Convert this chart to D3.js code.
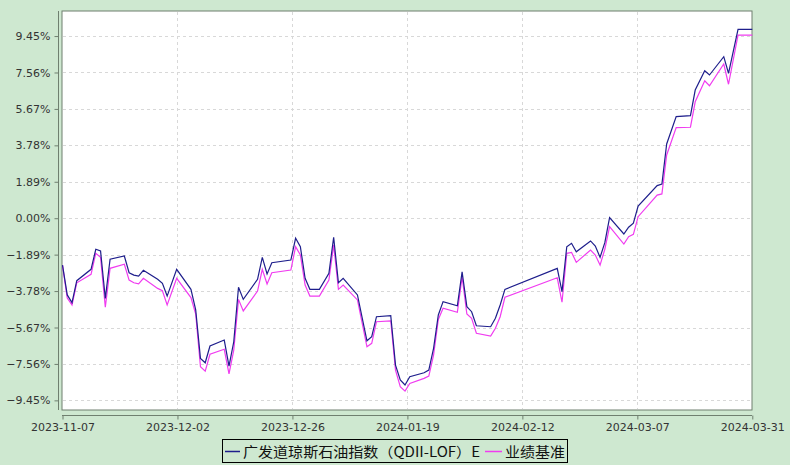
<!DOCTYPE html>
<html><head><meta charset="utf-8">
<script src="https://cdn.jsdelivr.net/npm/d3@7"></script>
<style>html,body{margin:0;padding:0;background:#cee8d0;} svg{display:block;}</style>
</head><body><svg id="chart" width="790" height="465"></svg>
<script>
const dates = ["2023-11-07","2023-11-08","2023-11-09","2023-11-10","2023-11-13","2023-11-14","2023-11-15","2023-11-16","2023-11-17",
"2023-11-20","2023-11-21","2023-11-22","2023-11-23","2023-11-24","2023-11-27","2023-11-28","2023-11-29","2023-12-01",
"2023-12-04","2023-12-05","2023-12-06","2023-12-07","2023-12-08","2023-12-11","2023-12-12","2023-12-13","2023-12-14","2023-12-15",
"2023-12-18","2023-12-19","2023-12-20","2023-12-21","2023-12-25","2023-12-26","2023-12-27","2023-12-28","2023-12-29","2023-12-31",
"2024-01-02","2024-01-03","2024-01-04","2024-01-05","2024-01-08","2024-01-10","2024-01-11","2024-01-12","2024-01-15","2024-01-16",
"2024-01-17","2024-01-18","2024-01-19","2024-01-22","2024-01-23","2024-01-24","2024-01-25","2024-01-26","2024-01-29","2024-01-30",
"2024-01-31","2024-02-01","2024-02-02","2024-02-05","2024-02-06","2024-02-07","2024-02-08","2024-02-19","2024-02-20","2024-02-21",
"2024-02-22","2024-02-23","2024-02-26","2024-02-27","2024-02-28","2024-02-29","2024-03-01","2024-03-04","2024-03-05","2024-03-06",
"2024-03-07","2024-03-11","2024-03-12","2024-03-13","2024-03-15","2024-03-18","2024-03-19","2024-03-21","2024-03-22","2024-03-25",
"2024-03-26","2024-03-28","2024-03-31"];
const fundValues = [-2.43,-3.98,-4.38,-3.24,-2.65,-1.61,-1.70,-4.16,-2.13,
-1.96,-2.83,-2.95,-3.00,-2.70,-3.17,-3.38,-4.04,-2.65,
-3.69,-4.76,-7.27,-7.50,-6.63,-6.32,-7.67,-6.41,-3.58,-4.21,
-3.17,-2.03,-2.89,-2.31,-2.17,-1.04,-1.48,-3.12,-3.69,-3.69,
-2.86,-0.99,-3.35,-3.12,-3.98,-6.36,-6.15,-5.11,-5.06,-7.62,
-8.39,-8.65,-8.22,-8.02,-7.88,-6.75,-5.02,-4.33,-4.54,-2.78,
-4.59,-4.85,-5.58,-5.63,-5.19,-4.50,-3.69,-2.60,-3.81,-1.48,
-1.30,-1.74,-1.18,-1.44,-2.03,-1.27,0.03,-0.82,-0.47,-0.26,
0.63,1.69,1.77,3.85,5.27,5.32,6.65,7.65,7.43,8.38,
7.52,9.80,9.80];
const benchValues = [-2.43,-4.14,-4.50,-3.35,-2.91,-1.82,-2.03,-4.62,-2.60,
-2.39,-3.21,-3.35,-3.41,-3.12,-3.64,-3.76,-4.50,-3.12,
-4.12,-4.97,-7.70,-7.93,-7.06,-6.80,-8.08,-6.84,-4.21,-4.81,
-3.78,-2.65,-3.41,-2.83,-2.69,-1.48,-1.91,-3.47,-4.04,-4.04,
-3.21,-1.39,-3.69,-3.47,-4.24,-6.67,-6.49,-5.37,-5.33,-7.88,
-8.74,-8.97,-8.57,-8.31,-8.19,-7.10,-5.25,-4.67,-4.88,-3.04,
-4.97,-5.19,-5.97,-6.11,-5.71,-5.11,-4.10,-3.09,-4.36,-1.82,
-1.77,-2.29,-1.65,-1.91,-2.43,-1.61,-0.44,-1.34,-0.96,-0.84,
0.08,1.20,1.26,3.28,4.70,4.72,6.04,7.13,6.87,8.00,
6.95,9.50,9.50];
const yTickValues = [9.45,7.56,5.67,3.78,1.89,0.00,-1.89,-3.78,-5.67,-7.56,-9.45];
const xTickLabels = ["2023-11-07","2023-12-02","2023-12-26","2024-01-19","2024-02-12","2024-03-07","2024-03-31"];
const seriesNames = ["广发道琼斯石油指数（QDII-LOF）E","业绩基准"];
const seriesColors = ["#1e1e8c","#f03cf0"];

const svg = d3.select("#chart");
const parse = d3.utcParse("%Y-%m-%d");
const pts = dates.map((d,i)=>({d:parse(d), f:fundValues[i], b:benchValues[i]}));

const L=62, R=752, T=11, B=410;
const t0 = parse(xTickLabels[0]), t1 = parse(xTickLabels[xTickLabels.length-1]);
const x = d3.scaleUtc().domain([t0,t1]).range([L+0.5,R+0.3]);
const y = d3.scaleLinear().domain([-9.95,10.75]).range([B,T]);

// plot background
svg.append("rect").attr("x",L).attr("y",T).attr("width",R-L).attr("height",B-T)
  .attr("fill","#ffffff").attr("stroke","#6f7f6f").attr("stroke-width",1);

// grid
const xTicks = xTickLabels.map((_,i)=>new Date(+t0 + i*(t1-t0)/(xTickLabels.length-1)));
svg.append("g").selectAll("line").data(yTickValues).join("line")
  .attr("x1",L+1).attr("x2",R-1)
  .attr("y1",d=>Math.round(y(d))+0.5).attr("y2",d=>Math.round(y(d))+0.5)
  .attr("stroke","#d8d8d8").attr("stroke-dasharray","3,3");
svg.append("g").selectAll("line").data(xTicks.slice(1,-1)).join("line")
  .attr("x1",d=>Math.round(x(d))+0.5).attr("x2",d=>Math.round(x(d))+0.5)
  .attr("y1",T+1).attr("y2",B-1)
  .attr("stroke","#d8d8d8").attr("stroke-dasharray","3,3");

// axes
const yAxis = d3.axisLeft(y).tickValues(yTickValues).tickSize(4).tickSizeOuter(0)
  .tickFormat(d=>d3.format(".2f")(d)+"%");
const gy = svg.append("g").attr("transform","translate(58.5,0)").call(yAxis);
gy.select(".domain").attr("d",`M0,${T}V${B}`).attr("stroke","#6f7f6f");
gy.selectAll(".tick line").attr("stroke","#6f7f6f");
gy.selectAll(".tick text").attr("x",-8).attr("fill","#333")
  .style("font-family","DejaVu Sans").style("font-size","11px");

const xAxis = d3.axisBottom(x).tickValues(xTicks).tickSize(4).tickSizeOuter(0)
  .tickFormat((d,i)=>xTickLabels[i]);
const gx = svg.append("g").attr("transform","translate(0,415.5)").call(xAxis);
gx.select(".domain").attr("d",`M${L},0H${R}`).attr("stroke","#6f7f6f");
gx.selectAll(".tick line").attr("stroke","#6f7f6f");
gx.selectAll(".tick text").attr("y",8).attr("fill","#333")
  .style("font-family","DejaVu Sans").style("font-size","11px");

// lines
const lineB = d3.line().x(p=>x(p.d)).y(p=>y(p.b));
const lineF = d3.line().x(p=>x(p.d)).y(p=>y(p.f));
svg.append("path").datum(pts).attr("d",lineB).attr("fill","none")
  .attr("stroke",seriesColors[1]).attr("stroke-width",1.2);
svg.append("path").datum(pts).attr("d",lineF).attr("fill","none")
  .attr("stroke",seriesColors[0]).attr("stroke-width",1.2);

// legend
const lg = svg.append("g");
lg.append("rect").attr("x",222.5).attr("y",439.5).attr("width",345).attr("height",23)
  .attr("fill","none").attr("stroke","#000").attr("stroke-width",1);
const legendItems = [
  {x1:225, x2:240, tx:243, tw:237, name:seriesNames[0], c:seriesColors[0]},
  {x1:485, x2:502, tx:505, tw:60, name:seriesNames[1], c:seriesColors[1]}
];
legendItems.forEach(it=>{
  lg.append("line").attr("x1",it.x1).attr("x2",it.x2).attr("y1",451.5).attr("y2",451.5)
    .attr("stroke",it.c).attr("stroke-width",1.5);
  lg.append("text").attr("x",it.tx).attr("y",456.5).text(it.name)
    .attr("textLength",it.tw).attr("lengthAdjust","spacingAndGlyphs")
    .style("font-family","'Noto Sans CJK SC', sans-serif").style("font-size","14px").attr("fill","#111");
});
</script></body></html>
